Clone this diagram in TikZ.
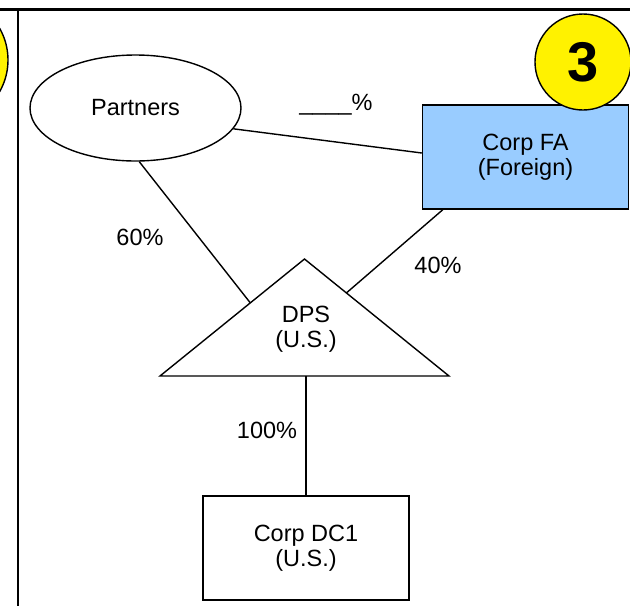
\documentclass[tikz,border=0pt]{standalone}
\usepackage{fontspec}
\setmainfont{Liberation Sans}
\usetikzlibrary{shapes.geometric,calc}
\definecolor{fablue}{RGB}{153,204,255}
\tikzset{
  txt/.style={font=\fontsize{23.5}{25}\selectfont, align=center, inner sep=0pt},
  entity/.style={txt, draw, line width=1.4pt, minimum width=206pt, minimum height=104pt},
  link/.style={line width=1.4pt},
  badge/.style={circle, draw, line width=1.4pt, fill=yellow, minimum size=96pt, inner sep=0pt, font=\fontsize{56}{56}\selectfont\bfseries}
}
\begin{document}
\begin{tikzpicture}[x=1pt,y=-1pt]
\clip (0,0) rectangle (630,606);
\fill[white] (0,0) rectangle (630,606);
\draw[line width=3.4pt] (0,9.5) -- (630,9.5);
\draw[line width=2.6pt] (18,9.5) -- (18,606);
\node[badge, minimum size=128pt] (badgeL) at (-56,60) {};
\node[txt, ellipse, draw, line width=1.4pt, minimum width=211pt, minimum height=106pt] (partners) at (135.5,108) {Partners};
\node[entity, fill=fablue] (corpfa) at (525.5,157) {Corp FA\\(Foreign)};
\node[entity] (corpdc) at (306,548) {Corp DC1\\(U.S.)};
\coordinate (dpsTop) at (304.5,259);
\coordinate (dpsL) at (160,376);
\coordinate (dpsR) at (449,376);
\draw[link, line join=miter] (dpsL) -- (dpsTop) -- (dpsR) -- cycle;
\node[txt] (dps) at (306,329) {DPS\\(U.S.)};
\coordinate (dpsIn1) at ($(dpsL)!0.625!(dpsTop)$);
\coordinate (dpsIn2) at ($(dpsR)!0.71!(dpsTop)$);
\draw[link] (partners.-12) -- ([yshift=4pt]corpfa.west);
\draw[link] (partners.-86) -- (dpsIn1);
\draw[link] ([xshift=21pt]corpfa.south west) -- (dpsIn2);
\draw[link] (corpdc.north) -- (corpdc.north |- dpsL);
\node[txt] (pctFA) at (336,105) {\_\_\_\_\%};
\node[txt] (pct60) at (140,237) {60\%};
\node[txt] (pct40) at (438,265) {40\%};
\node[txt] (pct100) at (267,430) {100\%};
\node[badge] (badge3) at (583,62) {3};
\end{tikzpicture}
\end{document}
